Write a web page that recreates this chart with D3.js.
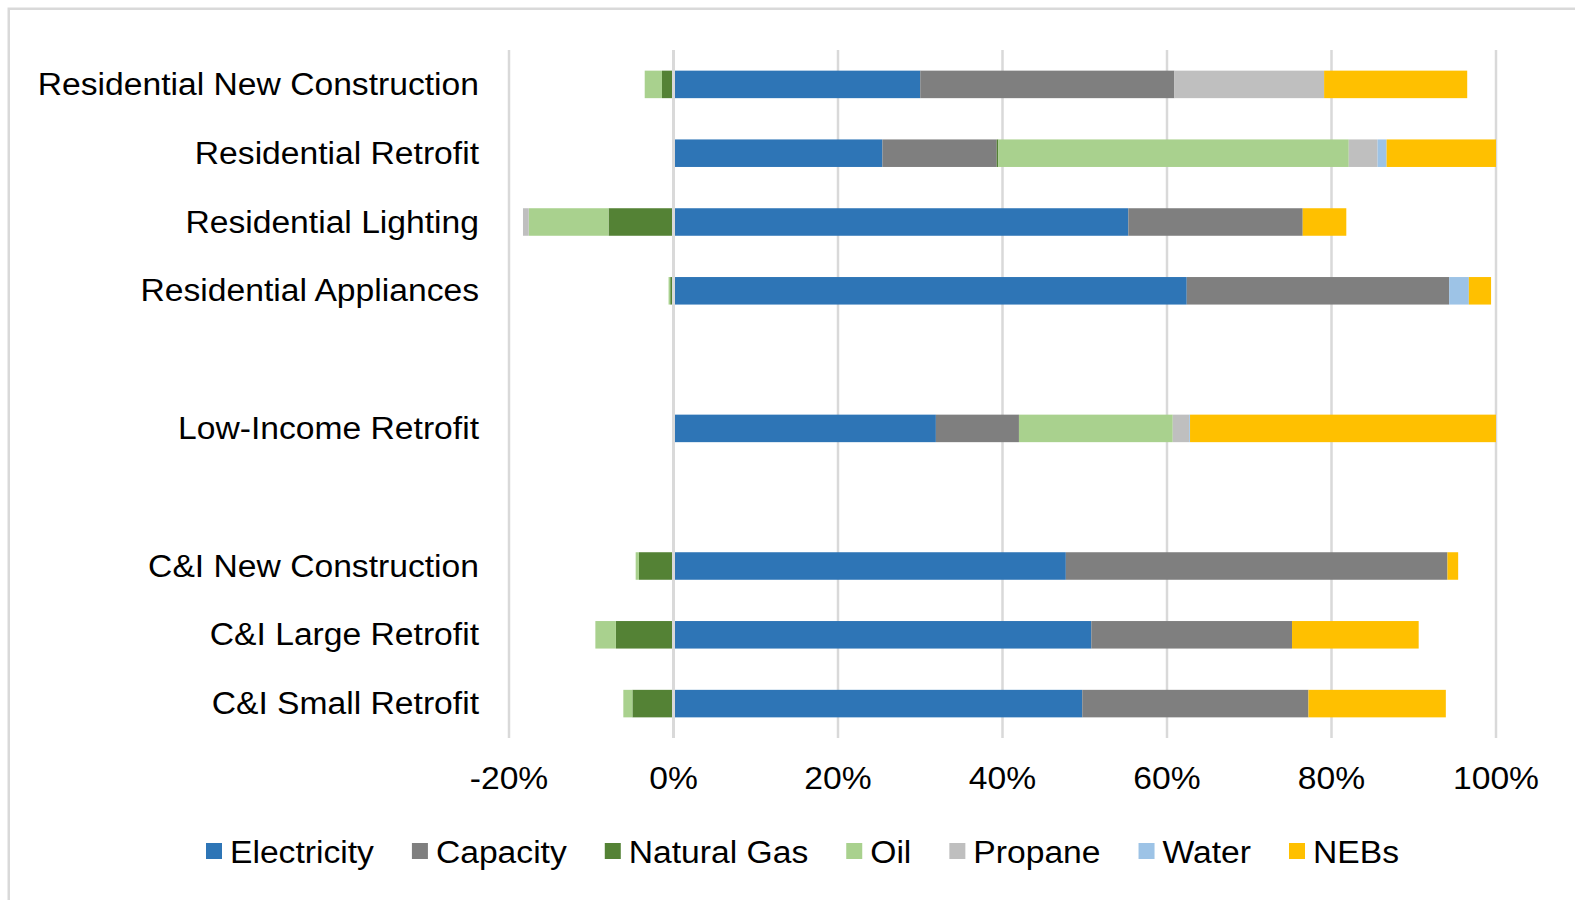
<!DOCTYPE html>
<html>
<head>
<meta charset="utf-8">
<script src="https://cdn.jsdelivr.net/npm/d3@7"></script>
<style>
  html, body { margin: 0; padding: 0; background: #fff; }
  svg { display: block; }
  text { font-family: "Liberation Sans", Arial, sans-serif; fill: #000; }
</style>
</head>
<body>
<svg id="chart" width="1575" height="900"></svg>
<script>
// ---- Data (percent) ----
const categories = [
  "Residential New Construction",
  "Residential Retrofit",
  "Residential Lighting",
  "Residential Appliances",
  "",
  "Low-Income Retrofit",
  "",
  "C&I New Construction",
  "C&I Large Retrofit",
  "C&I Small Retrofit"
];
const seriesNames = ["Electricity", "Capacity", "Natural Gas", "Oil", "Propane", "Water", "NEBs"];
const seriesColors = ["#2E75B6", "#7F7F7F", "#548235", "#A9D18E", "#BFBFBF", "#9DC3E6", "#FFC000"];

const electricity = [30.0, 25.4, 55.3, 62.4, 0, 31.9, 0, 47.7, 50.8, 49.7];
const capacity    = [30.9, 13.9, 21.2, 31.9, 0, 10.1, 0, 46.4, 24.4, 27.5];
const naturalGas  = [-1.4, 0.2, -7.9, -0.4, 0, 0, 0, -4.2, -7.0, -5.0];
const oil         = [-2.1, 42.6, -9.7, -0.2, 0, 18.7, 0, -0.4, -2.5, -1.1];
const propane     = [18.2, 3.5, -0.7, 0, 0, 2.0, 0, 0, 0, 0];
const water       = [0, 1.1, 0, 2.4, 0, 0.1, 0, 0, 0, 0];
const nebs        = [17.4, 13.3, 5.3, 2.7, 0, 37.2, 0, 1.3, 15.4, 16.7];

const tickValues = [-20, 0, 20, 40, 60, 80, 100];

// ---- Build table ----
const seriesArrays = [electricity, capacity, naturalGas, oil, propane, water, nebs];
const rows = categories.map((c, i) => {
  const r = { idx: i, name: c };
  seriesNames.forEach((s, k) => { r[s] = seriesArrays[k][i] / 100; });
  return r;
});

const svg = d3.select("#chart");
const FONT = 31;
const STRETCH = 1.085;

function stretch(sel) {
  sel.each(function () {
    const w = this.getComputedTextLength();
    if (w > 0) {
      this.setAttribute("textLength", w * STRETCH);
      this.setAttribute("lengthAdjust", "spacingAndGlyphs");
    }
  });
}

svg.append("rect").attr("width", 1575).attr("height", 900).attr("fill", "#fff");

// chart area border
svg.append("rect")
  .attr("x", 8.75).attr("y", 8.75)
  .attr("width", 1700).attr("height", 1000)
  .attr("fill", "none").attr("stroke", "#d9d9d9").attr("stroke-width", 2.5);

const x = d3.scaleLinear().domain([-0.2, 1.0]).range([509, 1496]);
const y = d3.scaleBand().domain(d3.range(categories.length)).range([50, 738])
  .paddingInner(0.6).paddingOuter(0.3);

// gridlines
svg.append("g").selectAll("line").data(tickValues.filter(t => t !== 0)).join("line")
  .attr("x1", d => x(d / 100)).attr("x2", d => x(d / 100))
  .attr("y1", 50).attr("y2", 738)
  .attr("stroke", "#d9d9d9").attr("stroke-width", 2.5);

// stacked bars
const stack = d3.stack().keys(seriesNames).offset(d3.stackOffsetDiverging);
const stacked = stack(rows);

svg.append("g").selectAll("g").data(stacked).join("g")
  .attr("fill", (d, i) => seriesColors[i])
  .selectAll("rect").data(d => d.filter(p => p[1] - p[0] !== 0)).join("rect")
  .attr("x", p => x(Math.min(p[0], p[1])))
  .attr("width", p => Math.abs(x(p[1]) - x(p[0])))
  .attr("y", p => y(p.data.idx))
  .attr("height", y.bandwidth());

// zero axis line on top
svg.append("line")
  .attr("x1", x(0)).attr("x2", x(0)).attr("y1", 50).attr("y2", 738)
  .attr("stroke", "#d9d9d9").attr("stroke-width", 3);

// category labels
svg.append("g").selectAll("text").data(categories.map((c, i) => ({ c, i })).filter(d => d.c !== ""))
  .join("text")
  .attr("x", 479)
  .attr("y", d => y(d.i) + y.bandwidth() / 2 + 10.5)
  .attr("text-anchor", "end")
  .style("font-size", FONT + "px")
  .text(d => d.c)
  .call(stretch);

// x axis tick labels
const fmt = v => d3.format(".0%")(v).replace("\u2212", "-");
svg.append("g").selectAll("text").data(tickValues).join("text")
  .attr("x", d => x(d / 100))
  .attr("y", 789)
  .attr("text-anchor", "middle")
  .style("font-size", FONT + "px")
  .text(d => fmt(d / 100))
  .call(stretch);

// legend
const legend = svg.append("g");
let lx = 206;
seriesNames.forEach((s, i) => {
  legend.append("rect")
    .attr("x", lx).attr("y", 843).attr("width", 16).attr("height", 16)
    .attr("fill", seriesColors[i]);
  const t = legend.append("text")
    .attr("x", lx + 24).attr("y", 862.5)
    .style("font-size", FONT + "px")
    .text(s);
  const w = t.node().getComputedTextLength();
  t.call(stretch);
  lx = lx + 24 + w * STRETCH + 38;
});
</script>
</body>
</html>
